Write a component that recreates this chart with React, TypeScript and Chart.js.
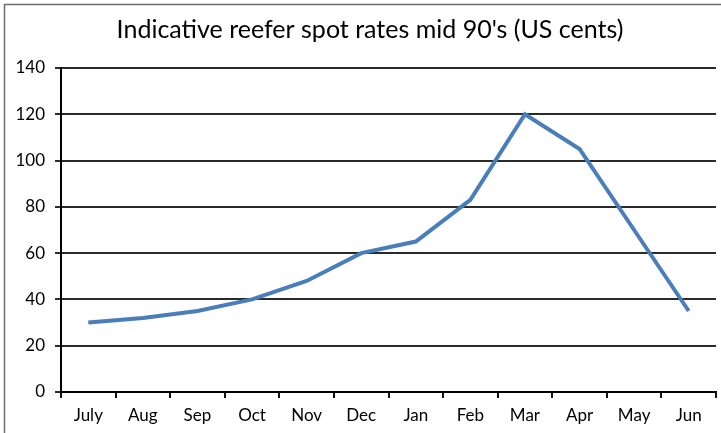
import React, { useEffect, useRef } from "react";
import { Chart, registerables } from "chart.js";

Chart.register(...registerables);

const title = "Indicative reefer spot rates mid 90's (US cents)";
const months = ["July", "Aug", "Sep", "Oct", "Nov", "Dec", "Jan", "Feb", "Mar", "Apr", "May", "Jun"];
const rates = [30, 32, 35, 40, 48, 60, 65, 83, 120, 105, 70, 35];
const yMin = 0;
const yMax = 140;
const yStep = 20;

const FONT = "Lato, 'Open Sans', 'Liberation Sans', sans-serif";

// Frame and title drawn straight onto the canvas
const framePlugin = {
  id: "frameAndTitle",
  beforeDraw(chart: Chart) {
    const ctx = chart.ctx;
    ctx.save();
    ctx.fillStyle = "#ffffff";
    ctx.fillRect(0, 0, chart.width, chart.height);
    ctx.strokeStyle = "#6e6e6e";
    ctx.lineWidth = 1.5;
    ctx.beginPath();
    ctx.moveTo(4.5, chart.height + 2);
    ctx.lineTo(4.5, 4.5);
    ctx.lineTo(chart.width + 2, 4.5);
    ctx.stroke();
    ctx.fillStyle = "#000000";
    ctx.font = `25px ${FONT}`;
    ctx.textAlign = "center";
    ctx.textBaseline = "alphabetic";
    ctx.fillText(title, 370, 38);
    ctx.restore();
  },
};

export default function App() {
  const ref = useRef<HTMLCanvasElement>(null);

  useEffect(() => {
    if (!ref.current) return;
    const chart = new Chart(ref.current, {
      type: "line",
      data: {
        labels: months,
        datasets: [
          {
            data: rates,
            borderColor: "#4a7ebb",
            borderWidth: 4,
            pointRadius: 0,
            tension: 0,
            fill: false,
          },
        ],
      },
      options: {
        animation: false,
        responsive: false,
        devicePixelRatio: 1,
        layout: { padding: { top: 68, right: 5, left: 0, bottom: 0 } },
        plugins: { legend: { display: false }, title: { display: false }, tooltip: { enabled: false } },
        scales: {
          x: {
            offset: true,
            grid: { offset: true, drawOnChartArea: false, color: "#111", lineWidth: 2, tickLength: 6 },
            border: { color: "#000", width: 2 },
            ticks: { color: "#000", font: { family: FONT, size: 17 }, padding: 7, maxRotation: 0, autoSkip: false },
            afterFit(scale: any) {
              scale.height = 41;
            },
          },
          y: {
            min: yMin,
            max: yMax,
            ticks: { stepSize: yStep, color: "#000", font: { family: FONT, size: 17 }, padding: 10 },
            grid: { color: "#2a2a2a", lineWidth: 2, tickLength: 6 },
            border: { color: "#000", width: 2 },
            afterFit(scale: any) {
              scale.width = 61;
            },
          },
        },
      },
      plugins: [framePlugin],
    });
    return () => chart.destroy();
  }, []);

  return (
    <div style={{ position: "absolute", left: 0, top: 0, width: 721, height: 433 }}>
      <canvas ref={ref} width={721} height={433} style={{ display: "block" }} />
    </div>
  );
}
